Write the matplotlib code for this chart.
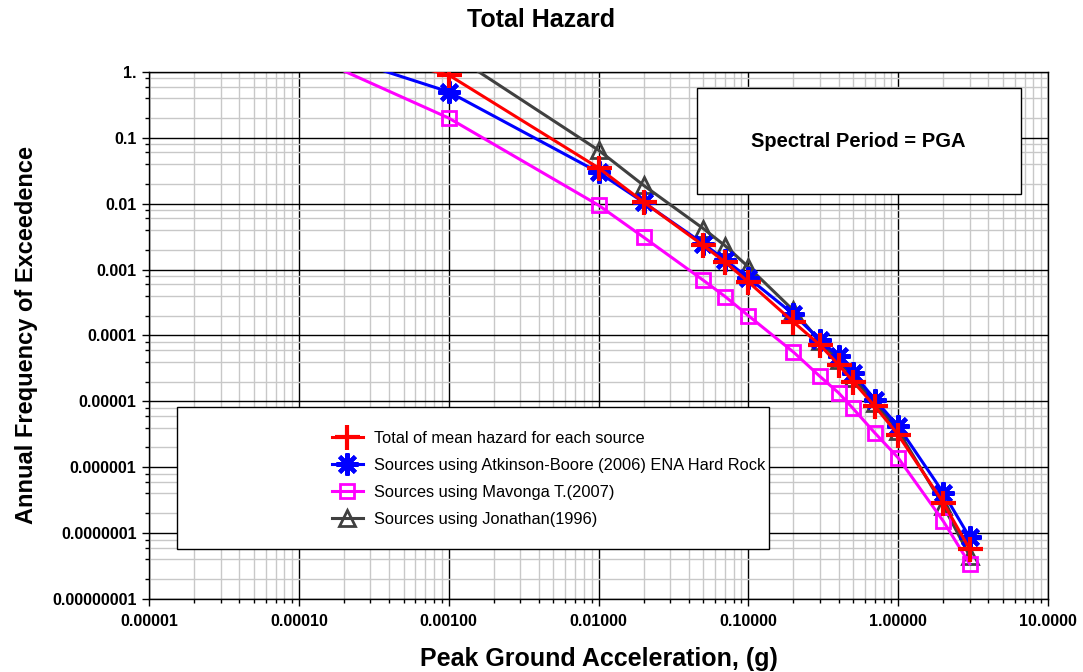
import matplotlib
matplotlib.use("Agg")
import matplotlib.pyplot as plt
from matplotlib.patches import Rectangle
from matplotlib.ticker import FixedLocator, LogLocator, NullFormatter, FixedFormatter

plt.rcParams['font.family'] = ['Liberation Sans', 'DejaVu Sans']

# ---- data ----
pga_total = [0.0001, 0.001, 0.01, 0.02, 0.05, 0.07, 0.1, 0.2, 0.3, 0.4, 0.5, 0.7, 1.0, 2.0, 3.0]
haz_total = [3.5, 0.9, 0.035, 0.0106, 0.00233, 0.0013, 0.00065, 0.00016, 7.2e-5, 3.6e-5, 2.0e-5, 8.4e-6, 3.1e-6, 2.9e-7, 5.7e-8]

pga_ab = [0.0001, 0.001, 0.01, 0.02, 0.05, 0.07, 0.1, 0.2, 0.3, 0.4, 0.5, 0.7, 1.0, 2.0, 3.0]
haz_ab = [2.7, 0.5, 0.030, 0.0105, 0.00248, 0.0014, 0.00075, 0.00021, 8.6e-5, 4.8e-5, 2.7e-5, 1.06e-5, 4.2e-6, 4.1e-7, 8.6e-8]

pga_mav = [0.0001, 0.001, 0.01, 0.02, 0.05, 0.07, 0.1, 0.2, 0.3, 0.4, 0.5, 0.7, 1.0, 2.0, 3.0]
haz_mav = [2.1, 0.2, 0.0095, 0.0031, 0.00069, 0.00039, 0.0002, 5.6e-5, 2.4e-5, 1.35e-5, 7.8e-6, 3.3e-6, 1.39e-6, 1.52e-7, 3.4e-8]

pga_jon = [0.0001, 0.001, 0.01, 0.02, 0.05, 0.07, 0.1, 0.2, 0.3, 0.4, 0.5, 0.7, 1.0, 2.0, 3.0]
haz_jon = [8.0, 2.0, 0.065, 0.019, 0.0042, 0.0023, 0.0011, 0.00024, 8.2e-5, 4.2e-5, 2.3e-5, 9.5e-6, 3.6e-6, 2.6e-7, 4.5e-8]

labels = ["Total of mean hazard for each source",
          "Sources using Atkinson-Boore (2006) ENA Hard Rock",
          "Sources using Mavonga T.(2007)",
          "Sources using Jonathan(1996)"]

x_ticks = [1e-5, 1e-4, 1e-3, 1e-2, 1e-1, 1, 10]
x_ticklabels = ["0.00001", "0.00010", "0.00100", "0.01000", "0.10000", "1.00000", "10.0000"]
y_ticks = [1e-8, 1e-7, 1e-6, 1e-5, 1e-4, 1e-3, 1e-2, 1e-1, 1]
y_ticklabels = ["0.00000001", "0.0000001", "0.000001", "0.00001", "0.0001", "0.001", "0.01", "0.1", "1."]

fig = plt.figure(figsize=(10.83, 6.72), dpi=100)
ax = fig.add_axes([0.1376, 0.1086, 0.8301, 0.7843])
ax.set_xscale('log')
ax.set_yscale('log')
ax.set_xlim(1e-5, 10)
ax.set_ylim(1e-8, 1)

lw = 2.2
h_jon, = ax.plot(pga_jon, haz_jon, color='#404040', lw=lw, marker='^', ms=11,
                 mfc='none', mec='#404040', mew=2, zorder=3)
h_mav, = ax.plot(pga_mav, haz_mav, color='#ff00ff', lw=lw, marker='s', ms=10,
                 mfc='none', mec='#ff00ff', mew=2, zorder=4)
h_ab, = ax.plot(pga_ab, haz_ab, color='#0000ff', lw=lw, marker=(8, 2, 0), ms=16,
                mec='#0000ff', mew=3, zorder=5)
h_tot, = ax.plot(pga_total, haz_total, color='#ff0000', lw=lw, marker='+', ms=18,
                 mec='#ff0000', mew=3, zorder=6)

# grid
ax.xaxis.set_major_locator(FixedLocator(x_ticks))
ax.xaxis.set_major_formatter(FixedFormatter(x_ticklabels))
ax.yaxis.set_major_locator(FixedLocator(y_ticks))
ax.yaxis.set_major_formatter(FixedFormatter(y_ticklabels))
ax.xaxis.set_minor_locator(LogLocator(base=10, subs=range(2, 10), numticks=50))
ax.yaxis.set_minor_locator(LogLocator(base=10, subs=(2, 4, 6, 8), numticks=50))
ax.xaxis.set_minor_formatter(NullFormatter())
ax.yaxis.set_minor_formatter(NullFormatter())
ax.grid(which='major', color='#000000', lw=1.0, zorder=1)
ax.grid(which='minor', color='#c8c8c8', lw=1.0, zorder=0)
ax.set_axisbelow(True)
ax.tick_params(which='major', direction='out', length=5, width=1, labelsize=11.5)
ax.tick_params(which='minor', direction='out', length=3, width=1)
for lab in ax.get_xticklabels() + ax.get_yticklabels():
    lab.set_fontweight('bold')
ax.tick_params(axis='x', pad=6)
ax.tick_params(axis='y', pad=4)
for sp in ax.spines.values():
    sp.set_color('black')
    sp.set_linewidth(1.0)

fig.text(0.5, 1 - 20 / 672, "Total Hazard", ha='center', va='center',
         fontsize=18, fontweight='bold')
ax.set_xlabel("Peak Ground Acceleration, (g)", fontsize=18, fontweight='bold', labelpad=13)
ax.set_ylabel("Annual Frequency of Exceedence", fontsize=17, fontweight='bold', labelpad=10)

# spectral period box
fig.patches.append(Rectangle((0.6436, 0.7113), 0.2991, 0.1577, transform=fig.transFigure,
                             facecolor='white', edgecolor='black', lw=1, zorder=10))
fig.text(0.7925, 0.79, "Spectral Period = PGA", ha='center', va='center',
         fontsize=14.5, fontweight='bold', zorder=11)

# legend box
fig.patches.append(Rectangle((0.1634, 0.183), 0.5467, 0.2113, transform=fig.transFigure,
                             facecolor='white', edgecolor='black', lw=1, zorder=10))
leg = fig.legend([h_tot, h_ab, h_mav, h_jon], labels, loc='upper left',
                 bbox_to_anchor=(0.2992, 0.3705), frameon=False, fontsize=11.8,
                 handlelength=1.85, labelspacing=0.73, handletextpad=0.7, borderpad=0)
leg.set_zorder(12)

fig.savefig("out.png", dpi=100)
